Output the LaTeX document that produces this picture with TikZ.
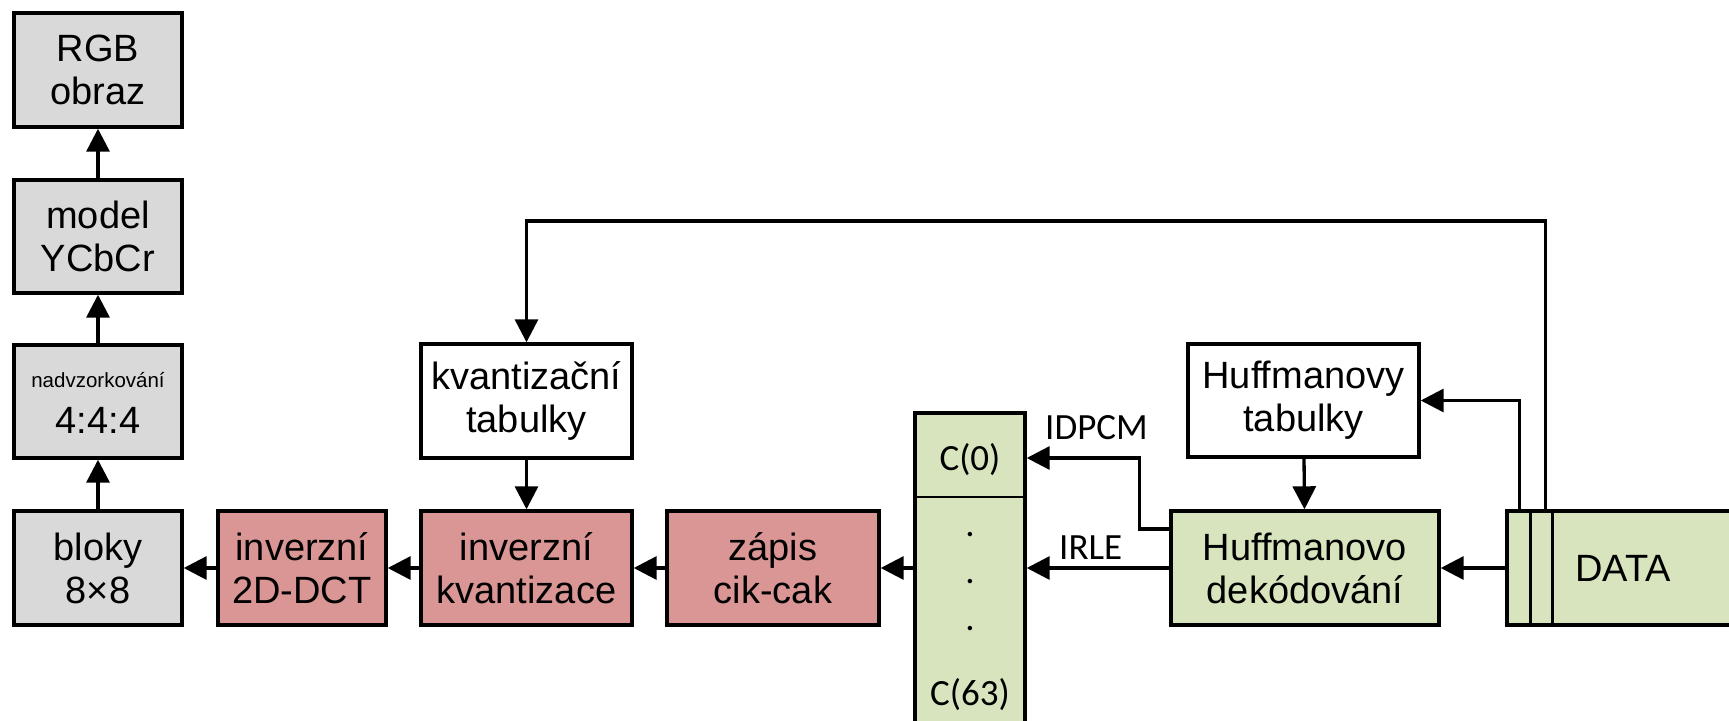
\documentclass[tikz,border=0pt]{standalone}
\usepackage{fontspec}
\setmainfont{Liberation Sans}
\newfontfamily\calfont{Carlito}
\usetikzlibrary{arrows.meta}
\definecolor{boxgray}{HTML}{D9D9D9}
\definecolor{boxred}{HTML}{D99694}
\definecolor{boxgreen}{HTML}{D7E4BD}
\tikzset{
  blk/.style={draw, line width=3.4pt, inner sep=0pt, align=center,
    font=\fontsize{38}{43}\selectfont},
  graybox/.style={blk, fill=boxgray},
  redbox/.style={blk, fill=boxred},
  greenbox/.style={blk, fill=boxgreen},
  whitebox/.style={blk, fill=white},
  conn/.style={line width=3.3pt, -{Triangle[length=23pt,width=23pt]}},
  ctext/.style={inner sep=0pt, font=\calfont\fontsize{37}{40}\selectfont},
}
\begin{document}
\begin{tikzpicture}[x=1pt,y=-1pt]
\useasboundingbox (0,0) rectangle (1729,720);
\clip (0,0) rectangle (1729,720);
\fill[white] (0,0) rectangle (1729,720);
% left column
\node[graybox, minimum width=168pt, minimum height=114pt] (rgb) at (98,70) {RGB\\obraz};
\node[graybox, minimum width=168pt, minimum height=113pt] (model) at (98,236.5) {model\\YCbCr};
\node[graybox, minimum width=168pt, minimum height=113pt] (nadvz) at (98,401.5) {};
\node[inner sep=0pt, anchor=base, font=\fontsize{20.5}{23}\selectfont] (nadvzt) at (98,387) {nadvzorkování};
\node[inner sep=0pt, anchor=base, font=\fontsize{38}{43}\selectfont] (nadvzn) at (98,433) {4:4:4};
\node[graybox, minimum width=168pt, minimum height=114pt] (bloky) at (98,568) {bloky\\8×8};
% bottom row
\node[redbox, minimum width=168pt, minimum height=114pt] (invdct) at (302,568) {inverzní\\2D-DCT};
\node[redbox, minimum width=211pt, minimum height=114pt] (invkv) at (526.5,568) {inverzní\\kvantizace};
\node[redbox, minimum width=212pt, minimum height=114pt] (zapis) at (773,568) {zápis\\cik-cak};
\node[whitebox, minimum width=211pt, minimum height=114pt] (kvtab) at (526.5,401) {kvantizační\\tabulky};
% coefficient column
\node[greenbox, minimum width=110pt, minimum height=387pt] (ccol) at (970,606.5) {};
\coordinate (divy) at (0,497);
\draw[line width=2pt] (ccol.west |- divy) -- (ccol.east |- divy);
\node[ctext] (c0) at (970,460) {C(0)};
\node[ctext, anchor=base] (d1) at (970,536) {.};
\node[ctext, anchor=base] (d2) at (970,583) {.};
\node[ctext, anchor=base] (d3) at (970,630) {.};
\node[ctext] (c63) at (970,695) {C(63)};
% Huffman
\node[greenbox, minimum width=268pt, minimum height=114pt] (hufdek) at (1305,568) {Huffmanovo\\dekódování};
\node[whitebox, minimum width=231pt, minimum height=113pt] (huftab) at (1303.5,400.5) {Huffmanovy\\tabulky};
% DATA
\node[greenbox, minimum width=293pt, minimum height=114pt] (data) at (1653.5,568) {};
\draw[line width=3.4pt] ([xshift=25pt]data.north west) -- ([xshift=25pt]data.south west);
\draw[line width=3.4pt] ([xshift=47pt]data.north west) -- ([xshift=47pt]data.south west);
\node[inner sep=0pt, anchor=west, font=\fontsize{38}{43}\selectfont] (datat) at (1575,568) {DATA};
% connectors
\draw[conn] (bloky) -- (nadvz);
\draw[conn] (nadvz) -- (model);
\draw[conn] (model) -- (rgb);
\draw[conn] (invdct) -- (bloky);
\draw[conn] (invkv) -- (invdct);
\draw[conn] (zapis) -- (invkv);
\draw[conn] (ccol.west |- zapis.east) -- (zapis.east);
\draw[conn] (kvtab) -- (invkv);
\draw[conn] (huftab) -- (hufdek);
\draw[conn] (data.west) -- (hufdek.east);
\draw[conn] (hufdek.west) -- (ccol.east |- hufdek.west);
\coordinate (idpy) at (0,529);
\coordinate (c0y) at (0,458);
\draw[conn] (hufdek.west |- idpy) -- ++(-30,0) |- (ccol.east |- c0y);
\node[ctext, anchor=west] (idpcm) at (1045,428) {IDPCM};
\node[ctext, anchor=west] (irle) at (1059,548) {IRLE};
\draw[conn] ([xshift=14pt]data.north west) |- (huftab.east);
\coordinate (topy) at (0,221);
\draw[conn] ([xshift=40pt]data.north west) |- (kvtab.north |- topy) -- (kvtab.north);
\end{tikzpicture}
\end{document}
